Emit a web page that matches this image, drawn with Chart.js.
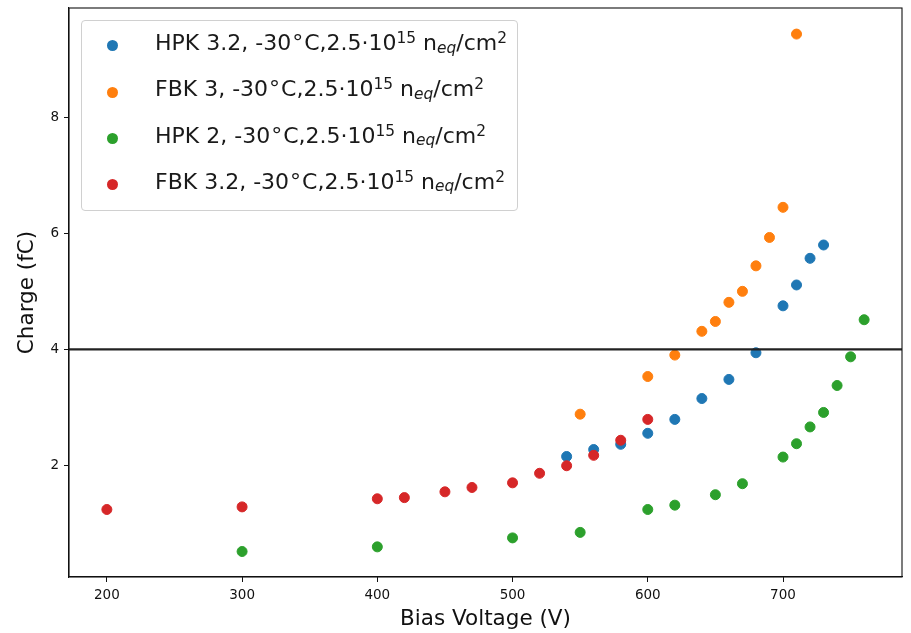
<!DOCTYPE html>
<html>
<head>
<meta charset="utf-8">
<script src="https://cdn.jsdelivr.net/npm/chart.js@4/dist/chart.umd.min.js"></script>
<style>
  html, body { margin: 0; padding: 0; background: #fff; }
  #wrap { position: relative; width: 911px; height: 633px; }
  #chart { position: absolute; left: 0; top: 0; }
  #legendBox { position: absolute; left: 81px; top: 20px; width: 437px; height: 191px; box-sizing: border-box;
    border: 1px solid #d0d0d0; border-radius: 4px; background: rgba(255,255,255,0.8); }
  .lgMark { position: absolute; width: 11px; height: 11px; border-radius: 50%; }
  .lgText { position: absolute; left: 155px; font-family: 'DejaVu Sans', sans-serif; font-size: 22px;
    line-height: 26px; color: #1a1a1a; white-space: nowrap; }
  .sup { font-size: 0.7em; position: relative; top: -0.45em; line-height: 0; }
  .sub { font-size: 0.7em; position: relative; top: 0.16em; line-height: 0; font-style: italic; }
  .deg { margin-left: 1px; margin-right: 1px; }
</style>
</head>
<body>
<div id="wrap">
  <canvas id="chart" width="911" height="633"></canvas>
  <div id="legendBox"></div>
</div>
<script>
// ---- data ----
const seriesNames = ["HPK 3.2", "FBK 3", "HPK 2", "FBK 3.2"];
const seriesColors = ["#1f77b4", "#ff7f0e", "#2ca02c", "#d62728"];

const hpk32V = [540, 560, 580, 600, 620, 640, 660, 680, 700, 710, 720, 730];
const hpk32Q = [2.15, 2.27, 2.36, 2.55, 2.79, 3.15, 3.48, 3.94, 4.75, 5.11, 5.57, 5.80];

const fbk3V = [550, 600, 620, 640, 650, 660, 670, 680, 690, 700, 710];
const fbk3Q = [2.88, 3.53, 3.90, 4.31, 4.48, 4.81, 5.00, 5.44, 5.93, 6.45, 9.44];

const hpk2V = [300, 400, 500, 550, 600, 620, 650, 670, 700, 710, 720, 730, 740, 750, 760];
const hpk2Q = [0.51, 0.59, 0.745, 0.84, 1.235, 1.31, 1.49, 1.68, 2.14, 2.37, 2.66, 2.91, 3.375, 3.87, 4.51];

const fbk32V = [200, 300, 400, 420, 450, 470, 500, 520, 540, 560, 580, 600];
const fbk32Q = [1.235, 1.28, 1.42, 1.44, 1.54, 1.615, 1.695, 1.86, 1.99, 2.17, 2.43, 2.79];

const thresholdQ = 4;
const xTicks = [200, 300, 400, 500, 600, 700];
const yTicks = [2, 4, 6, 8];
const xRange = [172, 788];
const yRange = [0.07, 9.89];

const xTitle = "Bias Voltage (V)";
const yTitle = "Charge (fC)";
const conditionText = ", -30<span class=\"deg\">°</span>C,2.5·10<span class=\"sup\">15</span> n<span class=\"sub\">eq</span>/cm<span class=\"sup\">2</span>";
const conditionPlain = ", -30°C,2.5·10¹⁵ n_eq/cm²";

// ---- build ----
const seriesV = [hpk32V, fbk3V, hpk2V, fbk32V];
const seriesQ = [hpk32Q, fbk3Q, hpk2Q, fbk32Q];

const pts = (xs, ys) => xs.map((x, i) => ({ x: x, y: ys[i] }));

const datasets = seriesNames.map((name, i) => ({
  type: 'scatter',
  label: name + conditionPlain,
  data: pts(seriesV[i], seriesQ[i]),
  backgroundColor: seriesColors[i],
  borderColor: seriesColors[i],
  pointRadius: 5,
  pointHoverRadius: 5,
  borderWidth: 1,
  order: 4 - i
}));
datasets.push({
  type: 'line',
  label: 'threshold',
  data: [{ x: xRange[0], y: thresholdQ }, { x: xRange[1], y: thresholdQ }],
  borderColor: '#222',
  borderWidth: 2.2,
  pointRadius: 0,
  order: 0
});

const frame = {
  id: 'frame',
  afterDatasetsDraw(chart) {
    const a = chart.chartArea, ctx = chart.ctx;
    ctx.save();
    ctx.strokeStyle = '#111';
    ctx.lineWidth = 1.1;
    ctx.strokeRect(a.left, a.top, a.right - a.left, a.bottom - a.top);
    ctx.restore();
  }
};

const tickFont = { family: 'DejaVu Sans', size: 13.5 };
const titleFont = { family: 'DejaVu Sans', size: 21.5 };

new Chart(document.getElementById('chart'), {
  data: { datasets },
  options: {
    responsive: false,
    animation: false,
    events: [],
    layout: { padding: { left: 0, right: 9, top: 8, bottom: 0 } },
    plugins: { legend: { display: false }, tooltip: { enabled: false } },
    scales: {
      x: {
        type: 'linear', min: xRange[0], max: xRange[1],
        afterBuildTicks: s => { s.ticks = xTicks.map(v => ({ value: v })); },
        afterFit: s => { s.height = 56; s.paddingLeft = 0; s.paddingRight = 0; },
        ticks: { font: tickFont, color: '#111', padding: 5, callback: v => String(v) },
        grid: { display: true, drawOnChartArea: false, drawTicks: true, tickLength: 5, color: '#111' },
        border: { display: true, color: '#111', width: 1.1 },
        title: { display: true, text: xTitle, font: titleFont, color: '#111', padding: { top: 0, bottom: 1 } }
      },
      y: {
        type: 'linear', min: yRange[0], max: yRange[1],
        afterBuildTicks: s => { s.ticks = yTicks.map(v => ({ value: v })); },
        afterFit: s => { s.width = 69; s.paddingTop = 0; s.paddingBottom = 0; },
        ticks: { font: tickFont, color: '#111', padding: 5, callback: v => String(v) },
        grid: { display: true, drawOnChartArea: false, drawTicks: true, tickLength: 5, color: '#111' },
        border: { display: true, color: '#111', width: 1.1 },
        title: { display: true, text: yTitle, font: titleFont, color: '#111', padding: { top: 15, bottom: 0 } }
      }
    }
  },
  plugins: [frame]
});

// ---- legend (HTML, for super/subscripts) ----
const wrap = document.getElementById('wrap');
const markTop0 = 45.7, rowStep = 46.3, baseline0 = 50.7;
seriesNames.forEach((name, i) => {
  const m = document.createElement('div');
  m.className = 'lgMark';
  m.style.background = seriesColors[i];
  m.style.left = (112.5 - 5.5) + 'px';
  m.style.top = (markTop0 + rowStep * i - 5.5) + 'px';
  wrap.appendChild(m);
  const t = document.createElement('div');
  t.className = 'lgText';
  t.style.top = (baseline0 + rowStep * i - 20.6) + 'px';
  t.innerHTML = name + conditionText;
  wrap.appendChild(t);
});
</script>
</body>
</html>
